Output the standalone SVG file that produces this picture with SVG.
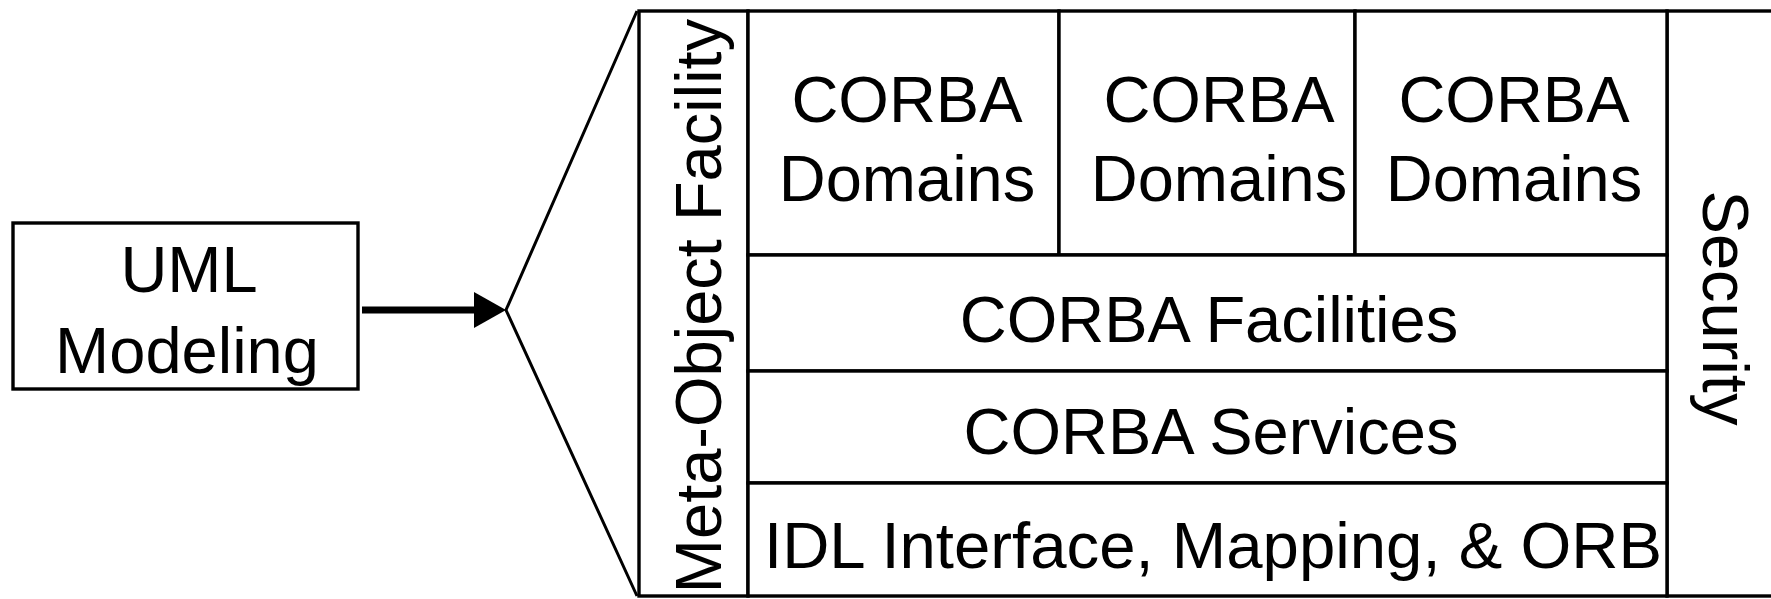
<svg xmlns="http://www.w3.org/2000/svg" width="1771" height="599" viewBox="0 0 1771 599">
  <style>
    .box { fill: #ffffff; stroke: #000000; stroke-width: 3.4; }
    .lbl { font-family: "Liberation Sans", Arial, sans-serif; font-size: 65px; fill: #000000; text-anchor: middle; }
    .wire { fill: none; stroke: #000000; stroke-linejoin: miter; }
  </style>
  <rect x="0" y="0" width="1771" height="599" fill="#ffffff"/>

  <!-- modeling input -->
  <g id="uml-modeling">
    <rect class="box" x="13" y="223" width="345" height="166"/>
    <text class="lbl" x="189" y="292">UML</text>
    <text class="lbl" x="187" y="373">Modeling</text>
  </g>

  <!-- arrow and expansion wedge -->
  <g id="connectors">
    <line class="wire" x1="362" y1="310" x2="476" y2="310" stroke-width="7"/>
    <polygon points="474,292 506,310 474,328" fill="#000000"/>
    <polyline class="wire" points="637,11 506,310 637,596" stroke-width="3"/>
  </g>

  <!-- architecture stack -->
  <g id="security">
    <rect class="box" x="1667" y="11" width="120" height="585"/>
    <text class="lbl" transform="translate(1703,308) rotate(90)">Security</text>
  </g>

  <g id="meta-object-facility">
    <rect class="box" x="639" y="11" width="109" height="585"/>
    <text class="lbl" transform="translate(721,306) rotate(-90)">Meta-Object Facility</text>
  </g>

  <g id="domains-1">
    <rect class="box" x="748" y="11" width="311" height="244"/>
    <text class="lbl" x="907" y="122">CORBA</text>
    <text class="lbl" x="907" y="201">Domains</text>
  </g>

  <g id="domains-2">
    <rect class="box" x="1059" y="11" width="296" height="244"/>
    <text class="lbl" x="1219" y="122">CORBA</text>
    <text class="lbl" x="1219" y="201">Domains</text>
  </g>

  <g id="domains-3">
    <rect class="box" x="1355" y="11" width="312" height="244"/>
    <text class="lbl" x="1514" y="122">CORBA</text>
    <text class="lbl" x="1514" y="201">Domains</text>
  </g>

  <g id="facilities">
    <rect class="box" x="748" y="255" width="919" height="116"/>
    <text class="lbl" x="1209" y="342">CORBA Facilities</text>
  </g>

  <g id="services">
    <rect class="box" x="748" y="371" width="919" height="112"/>
    <text class="lbl" x="1211" y="454">CORBA Services</text>
  </g>

  <g id="idl-orb">
    <rect class="box" x="748" y="483" width="919" height="113"/>
    <text class="lbl" x="1213" y="568" textLength="898" lengthAdjust="spacingAndGlyphs">IDL Interface, Mapping, &amp; ORB</text>
  </g>
</svg>
